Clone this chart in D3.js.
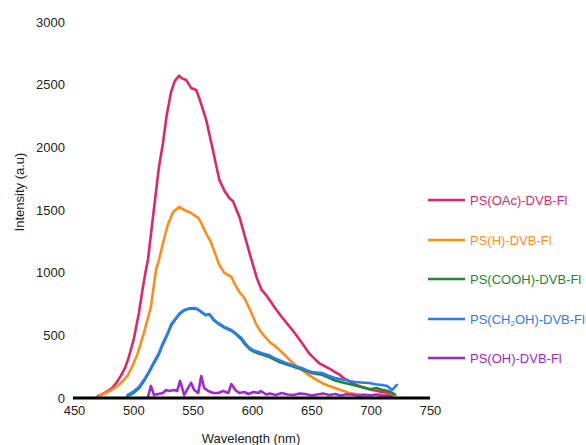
<!DOCTYPE html>
<html>
<head>
<meta charset="utf-8">
<script src="https://cdn.jsdelivr.net/npm/d3@7"></script>
<style>
  html, body { margin: 0; padding: 0; background: #fff; }
  svg { display: block; }
  text { font-family: "Liberation Sans", Arial, sans-serif; }
</style>
</head>
<body>
<svg id="chart" width="586" height="445"></svg>
<script>
// ---- Data (wavelength nm, intensity a.u.) ----
const seriesNames = ["PS(OAc)-DVB-Fl", "PS(H)-DVB-Fl", "PS(COOH)-DVB-Fl", "PS(CH2OH)-DVB-Fl", "PS(OH)-DVB-Fl"];
const seriesColors = ["#e3246a", "#ff8c1a", "#1b8a2c", "#2d7bf2", "#a326d4"];
const xTicks = [450, 500, 550, 600, 650, 700, 750];
const yTicks = [0, 500, 1000, 1500, 2000, 2500, 3000];

const oacData = [
  [470,16],[474,30],[478,52],[482,80],[486,125],[490,185],[493,240],[496,320],[500.4,470],[504.7,678],
  [508,880],[510.6,1022],[512.3,1101],[516,1400],[521.6,1844],[525,2035],[528,2250],[531.8,2442],
  [535,2530],[538.6,2572],[541,2550],[544.5,2538],[548.7,2474],[553,2458],[555.5,2394],[561.4,2219],
  [567,1980],[572.5,1740],[577,1650],[580.9,1596],[584,1570],[589.4,1445],[594,1290],[599.6,1101],
  [604,960],[608.1,862],[612,820],[616.6,758],[620,710],[625.1,646],[630,590],[636,519],[642,440],
  [647.9,359],[652,320],[656.4,279],[662,250],[666,230],[670,207],[674,185],[677,160],[681,140],
  [684.3,120],[688,104],[692,90],[696,80],[701.3,64],[705,58],[708,50],[712,44],[715.7,40],[720.8,24]
];
const hData = [
  [470.8,20],[475,32],[479,50],[483,72],[487,100],[491,135],[495.3,180],[499,250],[503.8,359],
  [508.9,519],[514.8,726],[519.1,1022],[521.6,1101],[525,1237],[529,1380],[533.5,1484],[538.6,1524],
  [543,1500],[548.7,1476],[554.7,1437],[557.2,1397],[561,1320],[565.7,1237],[569,1150],[572.5,1061],
  [576.7,998],[582.6,966],[586,900],[589.4,846],[593.6,798],[599.6,678],[603,600],[606.4,543],
  [610,500],[614.8,447],[620,410],[625.1,367],[629,330],[633.5,287],[638,250],[642,223],[646,195],
  [650.4,168],[655,140],[658.9,120],[664,100],[670,80],[676,60],[681.8,40],[688,32],[698.7,24],
  [710,26],[720.8,24]
];
const coohData = [
  [495,16],[500,40],[505,80],[509,135],[513,200],[517,270],[521.6,350],[525,430],[529,515],[532,580],
  [536,635],[539,670],[543,700],[547,712],[551,715],[554,708],[557,690],[561,660],[564,668],[568,618],
  [572,590],[577,560],[583,535],[587,505],[591,468],[594,430],[598,390],[601,372],[605.5,355],
  [609,345],[614,330],[618,310],[622.5,290],[628,272],[633.5,255],[638,240],[642,230],[646,215],
  [650,200],[655,192],[659,185],[664,165],[670,140],[674,130],[678,120],[682,112],[687,100],
  [693,85],[699,70],[705,80],[710,64],[715,56],[718,40],[720,30]
];
const ch2ohData = [
  [495.3,24],[500,50],[504.7,88],[509,145],[513.1,208],[517,280],[521.6,359],[525,440],[529.2,519],
  [532,590],[536,638],[539,675],[542.8,702],[547,715],[551.3,718],[554,710],[557.2,686],[561.4,662],
  [564,670],[568.2,622],[572,595],[576.7,567],[582.6,543],[587,510],[591.1,479],[594,440],[597.9,399],
  [601,382],[605.5,367],[609,356],[614,343],[618,322],[622.5,303],[628,282],[633.5,263],[638,250],
  [642,239],[646,222],[650.4,208],[655,203],[658.9,200],[664,180],[670,160],[674,152],[678.4,144],
  [682,136],[686.9,128],[692,124],[698.7,120],[704,110],[709.7,104],[714,96],[718.2,64],[722,104]
];
const ohData = [
  [512.3,8],[514.8,96],[517.4,24],[520.8,32],[525,40],[527.5,64],[530.1,56],[534.3,64],[536.9,56],
  [539.4,136],[542.8,24],[546.2,80],[548.7,120],[551.3,64],[554.7,40],[557.2,176],[559.7,80],
  [563.1,56],[567.4,40],[571.6,40],[575.8,56],[580.1,40],[582.6,112],[586,64],[589.4,40],[593.6,48],
  [597,32],[601.3,48],[605.5,40],[607.2,56],[612,28],[615,36],[620,24],[625,40],[630,28],[635,24],
  [640,36],[645,32],[650,20],[655,28],[660,36],[665,24],[670,32],[675,20],[680,30],[685,26],
  [690,18],[695,24],[700,20],[705,28],[710,16],[715,20],[718,12]
];
const allSeries = [oacData, hData, coohData, ch2ohData, ohData];

// ---- Chart ----
const svg = d3.select("#chart");
const x = d3.scaleLinear().domain([450, 750]).range([74, 430]);
const y = d3.scaleLinear().domain([0, 3000]).range([398, 22]);

// Y tick labels (no axis line)
const yAxis = d3.axisLeft(y).tickValues(yTicks).tickSize(0).tickPadding(0).tickFormat(d3.format("d"));
const gy = svg.append("g").attr("transform", "translate(65,0)").call(yAxis);
gy.select(".domain").remove();
gy.selectAll("text").attr("font-size", 13).attr("fill", "#222").attr("font-family", "Liberation Sans, Arial, sans-serif");

// X axis labels
const xAxis = d3.axisBottom(x).tickValues(xTicks).tickSize(0).tickPadding(0).tickFormat(d3.format("d"));
const gx = svg.append("g").attr("transform", "translate(0,406)").call(xAxis);
gx.select(".domain").remove();
gx.selectAll("text").attr("font-size", 13).attr("fill", "#222").attr("font-family", "Liberation Sans, Arial, sans-serif");

// Lines
const line = d3.line().x(d => x(d[0])).y(d => y(d[1]));
allSeries.forEach((data, i) => {
  svg.append("path")
    .datum(data)
    .attr("d", line)
    .attr("fill", "none")
    .attr("stroke", seriesColors[i])
    .attr("stroke-width", 2.6)
    .attr("stroke-linejoin", "round")
    .attr("stroke-linecap", "round");
});

// Baseline (x axis line)
svg.append("line")
  .attr("x1", x(450) - 1).attr("x2", x(750))
  .attr("y1", y(0)).attr("y2", y(0))
  .attr("stroke", "#000").attr("stroke-width", 3);

// Axis titles
svg.append("text")
  .attr("x", 251).attr("y", 443)
  .attr("text-anchor", "middle").attr("font-size", 13).attr("fill", "#222")
  .text("Wavelength (nm)");
svg.append("text")
  .attr("transform", "translate(24,192) rotate(-90)")
  .attr("text-anchor", "middle").attr("font-size", 13).attr("fill", "#222")
  .text("Intensity (a.u)");

// Legend
const legendY = [200, 240, 279, 319, 358];
seriesNames.forEach((name, i) => {
  const g = svg.append("g").attr("transform", `translate(428,${legendY[i]})`);
  g.append("line").attr("x1", 0).attr("x2", 37).attr("y1", 0).attr("y2", 0)
    .attr("stroke", seriesColors[i]).attr("stroke-width", 2.6);
  const t = g.append("text").attr("x", 42).attr("y", 5).attr("font-size", 13).attr("fill", seriesColors[i]);
  if (name.includes("CH2OH")) {
    t.append("tspan").text("PS(CH");
    t.append("tspan").attr("font-size", 8).attr("dy", 2).text("2");
    t.append("tspan").attr("dy", -2).text("OH)-DVB-Fl");
  } else {
    t.text(name);
  }
});
</script>
</body>
</html>
